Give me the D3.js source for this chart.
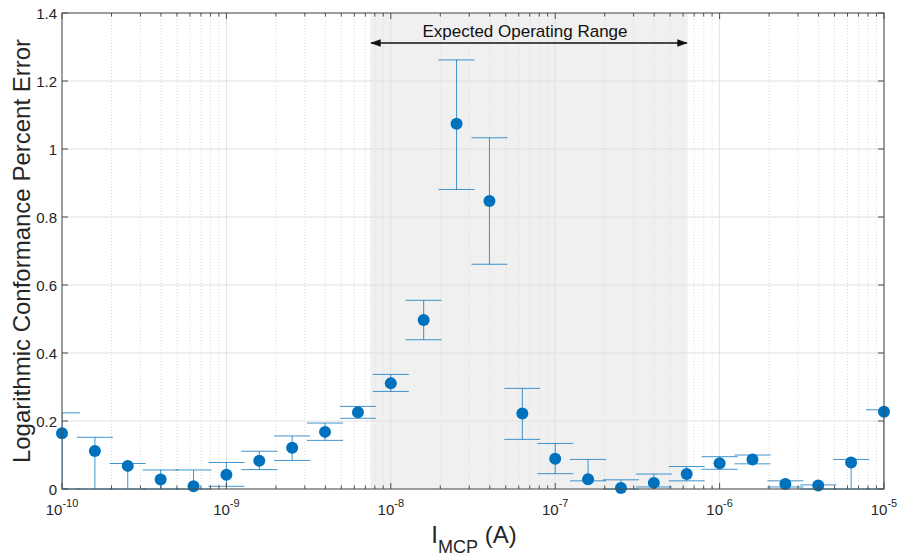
<!DOCTYPE html>
<html>
<head>
<meta charset="utf-8">
<script src="https://cdn.jsdelivr.net/npm/d3@7"></script>
<style>
  body { margin: 0; background: #fff; }
  text { font-family: Helvetica, "Liberation Sans", Arial, sans-serif; }
</style>
</head>
<body>
<div id="chart"></div>
<script>
// data
var currents = [1e-10, 1.585e-10, 2.512e-10, 3.981e-10, 6.310e-10,
  1e-9, 1.585e-9, 2.512e-9, 3.981e-9, 6.310e-9,
  1e-8, 1.585e-8, 2.512e-8, 3.981e-8, 6.310e-8,
  1e-7, 1.585e-7, 2.512e-7, 3.981e-7, 6.310e-7,
  1e-6, 1.585e-6, 2.512e-6, 3.981e-6, 6.310e-6, 1e-5];
var errorMean = [0.164, 0.112, 0.068, 0.028, 0.008, 0.042, 0.083, 0.121, 0.168, 0.226,
  0.311, 0.497, 1.074, 0.847, 0.222, 0.089, 0.029, 0.003, 0.018, 0.044,
  0.076, 0.087, 0.015, 0.010, 0.078, 0.227];
var errorUpper = [0.224, 0.152, 0.075, 0.056, 0.056, 0.078, 0.111, 0.156, 0.194, 0.243,
  0.337, 0.555, 1.262, 1.033, 0.296, 0.134, 0.087, 0.027, 0.044, 0.066,
  0.095, 0.100, 0.024, 0.012, 0.087, 0.233];
var errorLower = [0, 0, 0, 0, 0, 0.008, 0.057, 0.084, 0.143, 0.208,
  0.287, 0.439, 0.881, 0.661, 0.146, 0.045, 0.024, 0, 0.006, 0.024,
  0.058, 0.074, 0.006, 0, 0, 0];
var operatingRange = [7.5e-9, 6.4e-7];
var yTicks = [0, 0.2, 0.4, 0.6, 0.8, 1, 1.2, 1.4];
var xDecades = [-10, -9, -8, -7, -6, -5];

var svgWidth = 899, svgHeight = 556;
var margin = {top: 13, right: 15, bottom: 67, left: 62};
var width = svgWidth - margin.left - margin.right;
var height = svgHeight - margin.top - margin.bottom;

var svg = d3.select("#chart").append("svg")
  .attr("width", svgWidth)
  .attr("height", svgHeight);

// clip for the error bar caps that stick out of the axes
svg.append("defs").append("clipPath").attr("id", "plotClip")
  .append("rect").attr("x", 0).attr("y", -20).attr("width", width).attr("height", height + 40);

var chart = svg.append("g")
  .attr("transform", `translate(${margin.left}, ${margin.top})`);

var x = d3.scaleLog().domain([1e-10, 1e-5]).range([0, width]);
var y = d3.scaleLinear().domain([0, 1.4]).range([height, 0]);

// shaded operating range
chart.append("rect")
  .attr("x", x(operatingRange[0]))
  .attr("y", 0)
  .attr("width", x(operatingRange[1]) - x(operatingRange[0]))
  .attr("height", height)
  .attr("fill", "#f0f0f0");

// minor x positions
var minorX = [];
xDecades.slice(0, -1).forEach(function(e) {
  for (var k = 2; k <= 9; k++) minorX.push(k * Math.pow(10, e));
});
var majorX = xDecades.map(e => Math.pow(10, e));

// grid
chart.append("g").selectAll("line").data(minorX).enter().append("line")
  .attr("x1", d => x(d)).attr("x2", d => x(d))
  .attr("y1", 0).attr("y2", height)
  .attr("stroke", "#dcdcdc").attr("stroke-dasharray", "1,2");
chart.append("g").selectAll("line").data(majorX).enter().append("line")
  .attr("x1", d => x(d)).attr("x2", d => x(d))
  .attr("y1", 0).attr("y2", height)
  .attr("stroke", "#e0e0e0");
chart.append("g").selectAll("line").data(yTicks).enter().append("line")
  .attr("x1", 0).attr("x2", width)
  .attr("y1", d => y(d)).attr("y2", d => y(d))
  .attr("stroke", "#e0e0e0");

// annotation arrow
var defs = svg.select("defs");
["arrEnd", "arrStart"].forEach(function(id) {
  defs.append("marker")
    .attr("id", id)
    .attr("viewBox", "0 0 10 10")
    .attr("refX", 9).attr("refY", 5)
    .attr("markerWidth", 7).attr("markerHeight", 7)
    .attr("orient", id == "arrEnd" ? "auto" : "auto-start-reverse")
    .append("path").attr("d", "M0,1.5 L10,5 L0,8.5 Z").attr("fill", "#111");
});
var arrowY = 30;
chart.append("line")
  .attr("x1", x(operatingRange[0]) + 1).attr("x2", x(operatingRange[1]) - 1)
  .attr("y1", arrowY).attr("y2", arrowY)
  .attr("stroke", "#111").attr("stroke-width", 1.5)
  .attr("marker-end", "url(#arrEnd)")
  .attr("marker-start", "url(#arrStart)");
chart.append("text")
  .attr("x", (x(operatingRange[0]) + x(operatingRange[1])) / 2 - 4)
  .attr("y", arrowY - 6)
  .attr("text-anchor", "middle")
  .attr("font-size", "17px")
  .attr("fill", "#111")
  .text("Expected Operating Range");

// error bars
var blue = "#0072BD";
var bars = chart.append("g").attr("clip-path", "url(#plotClip)")
  .selectAll("g").data(currents).enter().append("g");
bars.append("line")
  .attr("x1", d => x(d)).attr("x2", d => x(d))
  .attr("y1", (d, i) => y(errorLower[i])).attr("y2", (d, i) => y(errorUpper[i]))
  .attr("stroke", blue).attr("stroke-opacity", 0.75);
bars.append("line")
  .attr("x1", d => x(d) - 18).attr("x2", d => x(d) + 18)
  .attr("y1", (d, i) => y(errorUpper[i])).attr("y2", (d, i) => y(errorUpper[i]))
  .attr("stroke", blue).attr("stroke-opacity", 0.75);
bars.append("line")
  .attr("x1", d => x(d) - 18).attr("x2", d => x(d) + 18)
  .attr("y1", (d, i) => y(errorLower[i])).attr("y2", (d, i) => y(errorLower[i]))
  .attr("stroke", blue).attr("stroke-opacity", 0.75);

chart.append("g").selectAll("circle").data(currents).enter().append("circle")
  .attr("cx", d => x(d))
  .attr("cy", (d, i) => y(errorMean[i]))
  .attr("r", 6)
  .attr("fill", blue);

var axisColor = "#4d4d4d";
chart.append("rect")
  .attr("x", 0).attr("y", 0).attr("width", width).attr("height", height)
  .attr("fill", "none").attr("stroke", axisColor).attr("stroke-width", 1);

// ticks: inside, on both sides
[0, height].forEach(function(yy) {
  var dir = yy == 0 ? 1 : -1;
  chart.append("g").selectAll("line").data(majorX).enter().append("line")
    .attr("x1", d => x(d)).attr("x2", d => x(d))
    .attr("y1", yy).attr("y2", yy + dir * 6)
    .attr("stroke", axisColor);
  chart.append("g").selectAll("line").data(minorX).enter().append("line")
    .attr("x1", d => x(d)).attr("x2", d => x(d))
    .attr("y1", yy).attr("y2", yy + dir * 3.5)
    .attr("stroke", axisColor);
});
[0, width].forEach(function(xx) {
  var dir = xx == 0 ? 1 : -1;
  chart.append("g").selectAll("line").data(yTicks).enter().append("line")
    .attr("x1", xx).attr("x2", xx + dir * 6)
    .attr("y1", d => y(d)).attr("y2", d => y(d))
    .attr("stroke", axisColor);
});

// y tick labels
chart.append("g").selectAll("text").data(yTicks).enter().append("text")
  .attr("x", -5)
  .attr("y", d => y(d) + 5.5)
  .attr("text-anchor", "end")
  .attr("font-size", "15px")
  .attr("fill", "#262626")
  .text(d => d);

// x tick labels 10^n
var xl = chart.append("g").selectAll("text").data(xDecades).enter().append("text")
  .attr("x", d => x(Math.pow(10, d)))
  .attr("y", height + 26)
  .attr("text-anchor", "middle")
  .attr("font-size", "15px")
  .attr("fill", "#262626");
xl.append("tspan").text("10");
xl.append("tspan").attr("dy", -8).attr("font-size", "11px").text(d => "-" + (-d));

// axis labels
var xlab = chart.append("text")
  .attr("x", width / 2 + 1)
  .attr("y", height + 54)
  .attr("text-anchor", "middle")
  .attr("font-size", "24px")
  .attr("fill", "#262626");
xlab.append("tspan").text("I");
xlab.append("tspan").attr("dy", 10).attr("font-size", "18px").text("MCP");
xlab.append("tspan").attr("dy", -10).text(" (A)");

chart.append("text")
  .attr("transform", `translate(${-margin.left + 30}, ${height / 2}) rotate(-90)`)
  .attr("text-anchor", "middle")
  .attr("font-size", "24px")
  .attr("fill", "#262626")
  .text("Logarithmic Conformance Percent Error");
</script>
</body>
</html>
